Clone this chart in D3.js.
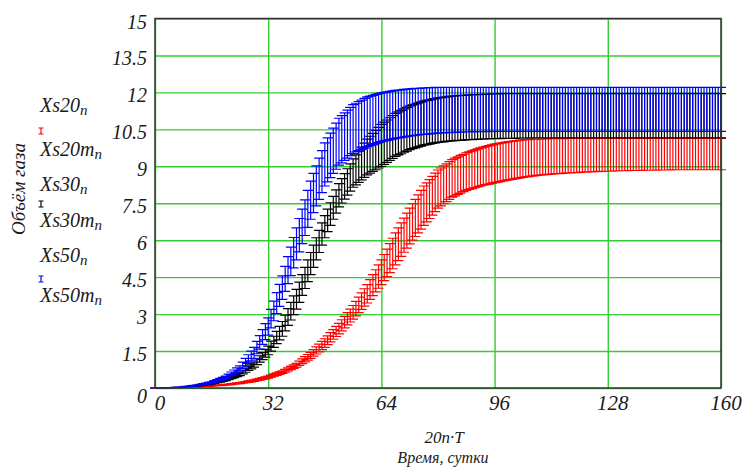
<!DOCTYPE html>
<html><head><meta charset="utf-8">
<script src="https://cdn.jsdelivr.net/npm/d3@7"></script>
<style>html,body{margin:0;padding:0;background:#fff;}svg{display:block;}svg text{font-family:"Liberation Serif","Times New Roman","DejaVu Serif",serif;font-style:italic;}</style>
</head><body><svg id="c" width="742" height="467"></svg>
<script>
// x = 20·n·T, n = 0..200
const T = 0.04;
const xTicks = [0, 32, 64, 96, 128, 160];
const xTickLabels = ["0", "32", "64", "96", "128", "160"];
const yTicks = [0, 1.5, 3, 4.5, 6, 7.5, 9, 10.5, 12, 13.5, 15];
const yTickLabels = ["0", "1.5", "3", "4.5", "6", "7.5", "9", "10.5", "12", "13.5", "15"];

const Xs20m = [
0,0,0,0.01,0.01,0.01,0.01,0.02,0.02,0.03,
0.03,0.04,0.04,0.05,0.05,0.06,0.07,0.08,0.08,0.09,
0.1,0.11,0.12,0.13,0.14,0.15,0.16,0.18,0.19,0.21,
0.22,0.24,0.26,0.29,0.31,0.33,0.36,0.39,0.42,0.45,
0.48,0.52,0.57,0.61,0.66,0.7,0.76,0.82,0.88,0.94,
1.0,1.09,1.18,1.27,1.36,1.45,1.56,1.67,1.78,1.89,
2.0,2.12,2.25,2.37,2.5,2.62,2.77,2.91,3.06,3.2,
3.35,3.52,3.69,3.86,4.03,4.2,4.4,4.6,4.8,5.0,
5.2,5.42,5.64,5.86,6.08,6.3,6.5,6.7,6.9,7.1,
7.3,7.48,7.66,7.84,8.02,8.2,8.33,8.46,8.59,8.72,
8.85,8.93,9.02,9.1,9.19,9.27,9.33,9.38,9.44,9.49,
9.55,9.59,9.63,9.67,9.71,9.75,9.78,9.81,9.84,9.87,
9.9,9.92,9.94,9.96,9.98,10.0,10.01,10.03,10.04,10.06,
10.07,10.08,10.08,10.09,10.09,10.1,10.1,10.11,10.11,10.12,
10.12,10.12,10.12,10.12,10.12,10.13,10.13,10.13,10.13,10.13,
10.13,10.13,10.13,10.13,10.13,10.13,10.13,10.13,10.13,10.13,
10.13,10.13,10.13,10.13,10.13,10.13,10.13,10.13,10.13,10.13,
10.13,10.13,10.13,10.13,10.13,10.13,10.13,10.13,10.13,10.13,
10.13,10.13,10.13,10.13,10.13,10.13,10.13,10.13,10.13,10.13,
10.13,10.13,10.13,10.13,10.13,10.13,10.13,10.13,10.13,10.13,
10.13];
const Xs20 = [
0,0,0,0.01,0.01,0.01,0.01,0.01,0.02,0.02,
0.02,0.03,0.03,0.04,0.04,0.05,0.06,0.06,0.07,0.07,
0.08,0.09,0.1,0.1,0.11,0.12,0.13,0.14,0.16,0.17,
0.18,0.2,0.22,0.23,0.25,0.27,0.3,0.32,0.35,0.37,
0.4,0.44,0.48,0.51,0.55,0.59,0.64,0.69,0.75,0.8,
0.85,0.92,0.99,1.06,1.13,1.2,1.29,1.38,1.47,1.56,
1.65,1.76,1.87,1.98,2.09,2.2,2.32,2.44,2.56,2.68,
2.8,2.93,3.06,3.19,3.32,3.45,3.6,3.75,3.9,4.05,
4.2,4.36,4.52,4.68,4.84,5.0,5.17,5.34,5.51,5.68,
5.85,6.0,6.15,6.3,6.45,6.6,6.74,6.88,7.02,7.16,
7.3,7.39,7.48,7.57,7.66,7.75,7.8,7.86,7.91,7.97,
8.02,8.06,8.09,8.13,8.16,8.2,8.23,8.26,8.28,8.31,
8.34,8.36,8.38,8.41,8.43,8.45,8.47,8.49,8.51,8.53,
8.55,8.57,8.58,8.6,8.61,8.63,8.64,8.65,8.66,8.67,
8.68,8.69,8.7,8.7,8.71,8.72,8.73,8.73,8.74,8.74,
8.75,8.76,8.76,8.77,8.77,8.78,8.78,8.79,8.79,8.8,
8.8,8.8,8.81,8.81,8.82,8.82,8.82,8.82,8.83,8.83,
8.83,8.83,8.83,8.84,8.84,8.84,8.84,8.84,8.85,8.85,
8.85,8.85,8.85,8.86,8.86,8.86,8.86,8.86,8.86,8.86,
8.86,8.86,8.86,8.86,8.86,8.86,8.86,8.86,8.86,8.86,
8.86];
const Xs30m = [
0,0,0,0.01,0.01,0.01,0.02,0.02,0.03,0.03,
0.04,0.05,0.06,0.08,0.09,0.1,0.12,0.14,0.16,0.18,
0.2,0.24,0.27,0.31,0.34,0.38,0.43,0.49,0.54,0.6,
0.65,0.73,0.81,0.89,0.97,1.05,1.18,1.31,1.44,1.57,
1.7,1.9,2.1,2.3,2.5,2.7,2.96,3.22,3.48,3.74,
4.0,4.3,4.6,4.9,5.2,5.5,5.8,6.1,6.4,6.7,
7.0,7.26,7.52,7.78,8.04,8.3,8.5,8.7,8.9,9.1,
9.3,9.46,9.62,9.78,9.94,10.1,10.22,10.34,10.46,10.58,
10.7,10.79,10.88,10.97,11.06,11.15,11.21,11.27,11.33,11.39,
11.45,11.49,11.53,11.57,11.61,11.65,11.68,11.7,11.73,11.75,
11.78,11.79,11.81,11.82,11.84,11.85,11.86,11.87,11.88,11.88,
11.89,11.9,11.9,11.91,11.91,11.92,11.92,11.93,11.93,11.94,
11.94,11.94,11.95,11.95,11.95,11.95,11.95,11.95,11.95,11.95,
11.95,11.95,11.95,11.95,11.95,11.95,11.95,11.95,11.95,11.95,
11.95,11.95,11.95,11.95,11.95,11.95,11.95,11.95,11.95,11.95,
11.95,11.95,11.95,11.95,11.95,11.95,11.95,11.95,11.95,11.95,
11.95,11.95,11.95,11.95,11.95,11.95,11.95,11.95,11.95,11.95,
11.95,11.95,11.95,11.95,11.95,11.95,11.95,11.95,11.95,11.95,
11.95,11.95,11.95,11.95,11.95,11.95,11.95,11.95,11.95,11.95,
11.95,11.95,11.95,11.95,11.95,11.95,11.95,11.95,11.95,11.95,
11.95];
const Xs30 = [
0,0,0,0.01,0.01,0.01,0.01,0.02,0.02,0.03,
0.03,0.04,0.05,0.06,0.07,0.08,0.1,0.11,0.13,0.14,
0.16,0.19,0.22,0.24,0.27,0.3,0.34,0.38,0.42,0.46,
0.5,0.57,0.64,0.71,0.78,0.85,0.95,1.05,1.15,1.25,
1.35,1.5,1.65,1.8,1.95,2.1,2.32,2.54,2.76,2.98,
3.2,3.48,3.76,4.04,4.32,4.6,4.9,5.2,5.5,5.8,
6.1,6.35,6.6,6.85,7.1,7.35,7.51,7.67,7.83,7.99,
8.15,8.25,8.35,8.45,8.55,8.65,8.72,8.79,8.86,8.93,
9.0,9.08,9.16,9.24,9.32,9.4,9.46,9.51,9.57,9.62,
9.68,9.72,9.75,9.79,9.82,9.86,9.88,9.9,9.93,9.95,
9.97,9.98,9.99,10.01,10.02,10.03,10.04,10.05,10.05,10.06,
10.07,10.08,10.08,10.09,10.09,10.1,10.1,10.11,10.11,10.12,
10.12,10.12,10.12,10.13,10.13,10.13,10.13,10.13,10.14,10.14,
10.14,10.14,10.14,10.15,10.15,10.15,10.15,10.15,10.15,10.15,
10.15,10.15,10.15,10.15,10.15,10.15,10.15,10.15,10.15,10.15,
10.15,10.15,10.15,10.15,10.15,10.15,10.15,10.15,10.15,10.15,
10.15,10.15,10.15,10.15,10.15,10.15,10.15,10.15,10.15,10.15,
10.15,10.15,10.15,10.15,10.15,10.15,10.15,10.15,10.15,10.15,
10.15,10.15,10.15,10.15,10.15,10.15,10.15,10.15,10.15,10.15,
10.15,10.15,10.15,10.15,10.15,10.15,10.15,10.15,10.15,10.15,
10.15];
const Xs50m = [
0,0,0,0.01,0.01,0.01,0.02,0.03,0.04,0.04,
0.05,0.07,0.08,0.1,0.11,0.13,0.15,0.18,0.2,0.23,
0.25,0.3,0.34,0.39,0.43,0.48,0.56,0.65,0.73,0.82,
0.9,1.05,1.2,1.35,1.5,1.65,1.89,2.13,2.37,2.61,
2.85,3.19,3.53,3.87,4.21,4.55,4.94,5.33,5.72,6.11,
6.5,6.88,7.26,7.64,8.02,8.4,8.71,9.02,9.33,9.64,
9.95,10.15,10.35,10.55,10.75,10.95,11.06,11.17,11.28,11.39,
11.5,11.56,11.63,11.69,11.76,11.82,11.85,11.88,11.92,11.95,
11.98,12.0,12.02,12.04,12.06,12.08,12.09,12.1,12.12,12.13,
12.14,12.15,12.16,12.16,12.17,12.18,12.18,12.19,12.19,12.2,
12.2,12.2,12.2,12.2,12.2,12.2,12.2,12.2,12.2,12.2,
12.2,12.2,12.2,12.2,12.2,12.2,12.2,12.2,12.2,12.2,
12.2,12.2,12.2,12.2,12.2,12.2,12.2,12.2,12.2,12.2,
12.2,12.2,12.2,12.2,12.2,12.2,12.2,12.2,12.2,12.2,
12.2,12.2,12.2,12.2,12.2,12.2,12.2,12.2,12.2,12.2,
12.2,12.2,12.2,12.2,12.2,12.2,12.2,12.2,12.2,12.2,
12.2,12.2,12.2,12.2,12.2,12.2,12.2,12.2,12.2,12.2,
12.2,12.2,12.2,12.2,12.2,12.2,12.2,12.2,12.2,12.2,
12.2,12.2,12.2,12.2,12.2,12.2,12.2,12.2,12.2,12.2,
12.2,12.2,12.2,12.2,12.2,12.2,12.2,12.2,12.2,12.2,
12.2];
const Xs50 = [
0,0,0,0.01,0.01,0.01,0.02,0.02,0.03,0.03,
0.04,0.05,0.06,0.08,0.09,0.1,0.12,0.14,0.16,0.18,
0.2,0.24,0.27,0.31,0.34,0.38,0.44,0.51,0.57,0.64,
0.7,0.8,0.9,1.0,1.1,1.2,1.39,1.58,1.77,1.96,
2.15,2.44,2.73,3.02,3.31,3.6,3.92,4.24,4.56,4.88,
5.2,5.53,5.86,6.19,6.52,6.85,7.12,7.39,7.66,7.93,
8.2,8.37,8.54,8.71,8.88,9.05,9.14,9.24,9.33,9.43,
9.52,9.58,9.63,9.69,9.74,9.8,9.84,9.88,9.92,9.96,
10.0,10.03,10.05,10.08,10.1,10.13,10.15,10.17,10.19,10.21,
10.23,10.24,10.26,10.27,10.29,10.3,10.31,10.32,10.33,10.34,
10.35,10.36,10.36,10.37,10.37,10.38,10.38,10.39,10.39,10.4,
10.4,10.4,10.4,10.41,10.41,10.41,10.41,10.41,10.42,10.42,
10.42,10.42,10.42,10.42,10.42,10.42,10.42,10.42,10.42,10.42,
10.42,10.42,10.42,10.42,10.42,10.42,10.42,10.42,10.42,10.42,
10.42,10.42,10.42,10.42,10.42,10.42,10.42,10.42,10.42,10.42,
10.42,10.42,10.42,10.42,10.42,10.42,10.42,10.42,10.42,10.42,
10.42,10.42,10.42,10.42,10.42,10.42,10.42,10.42,10.42,10.42,
10.42,10.42,10.42,10.42,10.42,10.42,10.42,10.42,10.42,10.42,
10.42,10.42,10.42,10.42,10.42,10.42,10.42,10.42,10.42,10.42,
10.42,10.42,10.42,10.42,10.42,10.42,10.42,10.42,10.42,10.42,
10.42];

const series = [
  {name: "Xs20", lo: Xs20, hi: Xs20m, color: "#ff0000"},
  {name: "Xs30", lo: Xs30, hi: Xs30m, color: "#000000"},
  {name: "Xs50", lo: Xs50, hi: Xs50m, color: "#0000ff"}
];

const svg = d3.select("#c");
const L = 155, R = 721, Tp = 18.5, B = 388;
const x = d3.scaleLinear().domain([0, 160]).range([L, R]);
const y = d3.scaleLinear().domain([0, 15]).range([B, Tp]);
const gridColor = "#33cc33";
const txt = "#1a1a1a";

// grid via axes
svg.append("g").attr("transform", `translate(0,${B})`)
  .call(d3.axisBottom(x).tickValues(xTicks).tickSize(-(B - Tp)).tickFormat(""))
  .call(g => { g.select(".domain").remove(); g.selectAll("line").attr("stroke", gridColor).attr("stroke-width", 1.4); });
svg.append("g").attr("transform", `translate(${L},0)`)
  .call(d3.axisLeft(y).tickValues(yTicks).tickSize(-(R - L)).tickFormat(""))
  .call(g => { g.select(".domain").remove(); g.selectAll("line").attr("stroke", gridColor).attr("stroke-width", 1.4); });

// error bars
const cap = 5;
series.forEach(s => {
  const g = svg.append("g").attr("stroke", s.color).attr("stroke-width", 1.2).attr("fill", "none");
  const n = Math.min(s.lo.length, s.hi.length);
  let d = "";
  for (let i = 0; i < n; i++) {
    const xv = x(20 * i * T);
    const y1 = y(s.lo[i]), y2 = y(s.hi[i]);
    d += `M${xv},${y1}V${y2}M${xv - cap},${y1}H${xv + cap}M${xv - cap},${y2}H${xv + cap}`;
  }
  g.append("path").attr("d", d);
});

// frame
svg.append("rect").attr("x", L).attr("y", Tp).attr("width", R - L).attr("height", B - Tp)
  .attr("fill", "none").attr("stroke", "#333").attr("stroke-width", 1.5);

// tick labels
svg.append("g").selectAll("text").data(yTicks).join("text")
  .attr("x", 147).attr("y", (d) => y(d) + (d === 0 ? 15 : 10))
  .attr("text-anchor", "end").attr("font-size", 20).attr("fill", txt)
  .text((d, i) => yTickLabels[i]);
svg.append("g").selectAll("text").data(xTicks).join("text")
  .attr("x", (d) => x(d) + 5).attr("y", 410)
  .attr("text-anchor", "middle").attr("font-size", 21).attr("fill", txt)
  .text((d, i) => xTickLabels[i]);

// axis titles
svg.append("text").attr("x", 444).attr("y", 443).attr("text-anchor", "middle")
  .attr("font-size", 17).attr("fill", txt).text("20n\u00B7T");
svg.append("text").attr("x", 443).attr("y", 463).attr("text-anchor", "middle")
  .attr("font-size", 16).attr("fill", txt).text("Время, сутки");
svg.append("text").attr("transform", "translate(25,189) rotate(-90)").attr("text-anchor", "middle")
  .attr("font-size", 19).attr("fill", txt).text("Объём газа");

// legend
const legBase = [[112, 156], [191, 227], [262, 302]];
const glyphY = [131, 204, 279];
series.forEach((s, i) => {
  [[s.name, legBase[i][0]], [s.name + "m", legBase[i][1]]].forEach(([t, by]) => {
    const tx = svg.append("text").attr("x", 40).attr("y", by).attr("font-size", 20).attr("fill", txt);
    tx.append("tspan").text(t);
    tx.append("tspan").attr("font-size", 15).attr("dy", 3).text("n");
  });
  const gy = glyphY[i];
  svg.append("path").attr("d", `M41,${gy - 3}V${gy + 3}M38.5,${gy - 3}H43.5M38.5,${gy + 3}H43.5`)
    .attr("stroke", s.color).attr("stroke-width", 1.2).attr("fill", "none");
});
</script></body></html>
